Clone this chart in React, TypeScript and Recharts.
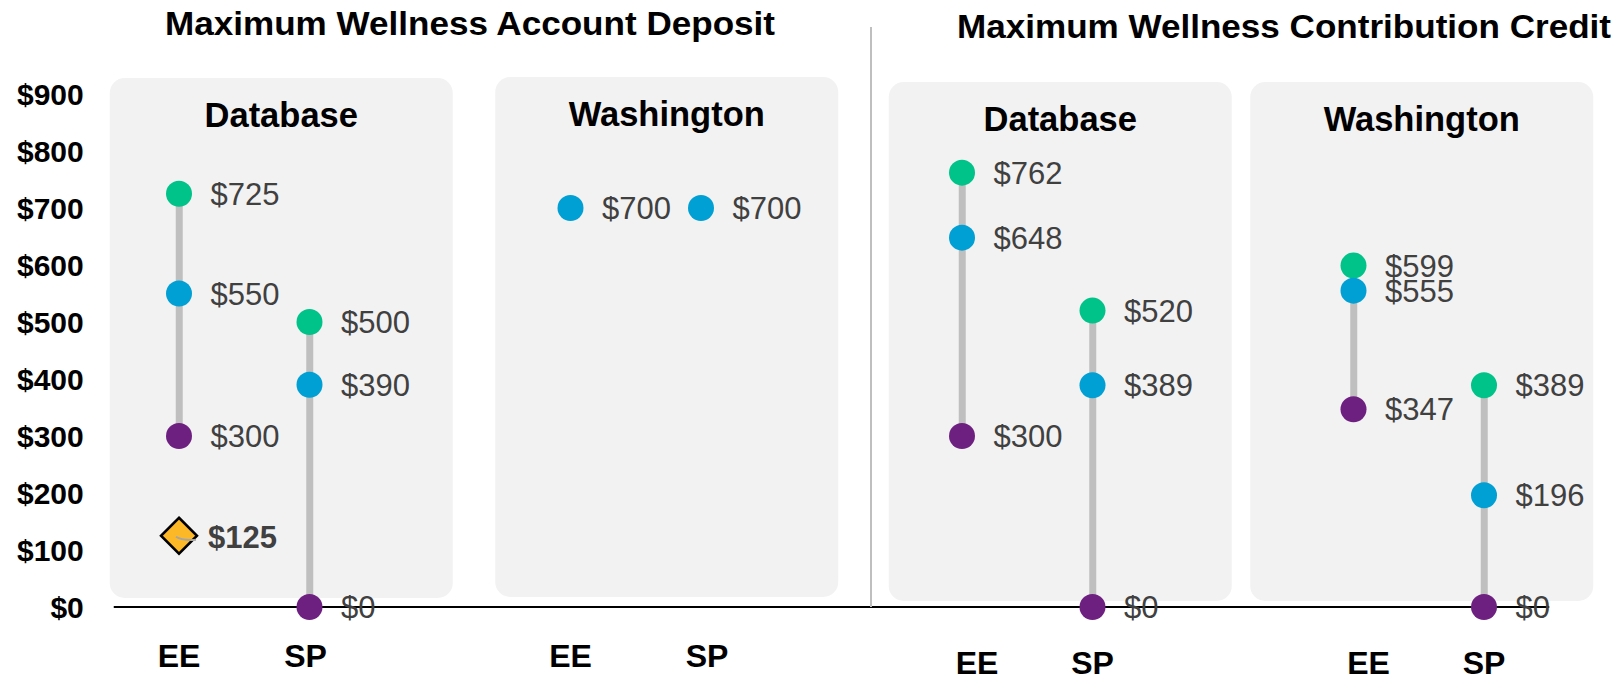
import {
  ComposedChart,
  Bar,
  Scatter,
  XAxis,
  YAxis,
  ReferenceArea,
} from "recharts";

// x positions: EE / SP per panel, blank slots separate the panels
const TICK_LABELS = ["EE", "SP", "", "EE", "SP", "", "EE", "SP", "", "EE", "SP"];
const PANEL_NAMES = ["Database", "Washington", "Database", "Washington"];
const SECTION_TITLES = ["Maximum Wellness Account Deposit", "Maximum Wellness Contribution Credit"];
const Y_TICKS = [0, 100, 200, 300, 400, 500, 600, 700, 800, 900];

const MAX_VALUES = [725, 500, null, null, null, null, 762, 520, null, 599, 389];
const MID_VALUES = [550, 390, null, 700, 700, null, 648, 389, null, 555, 196];
const MIN_VALUES = [300, 0, null, null, null, null, 300, 0, null, 347, 0];
const SPECIAL_VALUES = [125, null, null, null, null, null, null, null, null, null, null];

const GREEN = "#00C389";
const BLUE = "#009FD4";
const PURPLE = "#6E2081";
const GOLD = "#FDB827";
const STEM = "#BFBFBF";
const LABEL = "#404040";
const FONT = "'Liberation Sans', Arial, sans-serif";

const rows = TICK_LABELS.map((tick, i) => {
  const hi = MAX_VALUES[i];
  const lo = MIN_VALUES[i];
  return {
    id: `c${i}`,
    tick,
    max: hi,
    mid: MID_VALUES[i],
    min: lo,
    special: SPECIAL_VALUES[i],
    range: hi != null && lo != null ? [lo, hi] : null,
  };
});

// panel boxes, relative to the band area of their two categories
const PANEL_BOX = [
  { dx: -4, top: 16, bottom: 9 },
  { dx: -10, top: 17, bottom: 10 },
  { dx: -8, top: 12, bottom: 6 },
  { dx: -38, top: 12, bottom: 6 },
];

function Panel(props: any) {
  const { x, y, height, idx } = props;
  const box = PANEL_BOX[idx];
  const left = x + box.dx;
  const top = y - box.top;
  const h = height + box.top - box.bottom;
  return (
    <g>
      <rect x={left} y={top} width={343} height={h} rx={15} ry={15} fill="#F2F2F2" />
      <text
        x={left + 171.5}
        y={top + 49}
        textAnchor="middle"
        fontFamily={FONT}
        fontWeight="bold"
        fontSize={34.5}
        fill="#000"
      >
        {PANEL_NAMES[idx]}
      </text>
    </g>
  );
}

const dotShape = (key: "max" | "mid" | "min", color: string) => (props: any) => {
  const { cx, cy, payload } = props;
  const v = payload?.[key];
  if (v == null || cx == null || cy == null) return <g />;
  return (
    <g>
      <circle cx={cx} cy={cy} r={13} fill={color} />
      <text x={cx + 31.5} y={cy + 11} fontFamily={FONT} fontSize={31} fill={LABEL}>
        {`$${v}`}
      </text>
    </g>
  );
};

function diamondShape(props: any) {
  const { cx, cy, payload } = props;
  const v = payload?.special;
  if (v == null || cx == null || cy == null) return <g />;
  const s = 18;
  return (
    <g>
      <polygon
        points={`${cx},${cy - s} ${cx + s},${cy} ${cx},${cy + s} ${cx - s},${cy}`}
        fill={GOLD}
        stroke="#000"
        strokeWidth={2.5}
        strokeLinejoin="miter"
      />
      <path
        d={`M${cx - 3},${cy + 1} Q${cx + 3},${cy + 5} ${cx + 17},${cy + 4}`}
        stroke="#A6A6A6"
        strokeWidth={2}
        fill="none"
      />
      <text x={cx + 29} y={cy + 12} fontFamily={FONT} fontWeight="bold" fontSize={31} fill={LABEL}>
        {`$${v}`}
      </text>
    </g>
  );
}

function CategoryTick(props: any) {
  const { x, y, index } = props;
  const label = TICK_LABELS[index];
  if (!label) return <g />;
  const right = index > 5;
  let dx = 0;
  if (right && label === "EE") dx = 15;
  if (index === 1) dx = -4;
  if (index === 4) dx = 6;
  return (
    <text
      x={x + dx}
      y={y + (right ? 67 : 60)}
      textAnchor="middle"
      fontFamily={FONT}
      fontWeight="bold"
      fontSize={32}
      fill="#000"
    >
      {label}
    </text>
  );
}

export default function App() {
  return (
    <div
      style={{
        position: "absolute",
        left: 0,
        top: 0,
        width: 1623,
        height: 681,
        background: "#fff",
        fontFamily: FONT,
      }}
    >
      <ComposedChart
        width={1623}
        height={681}
        data={rows}
        margin={{ top: 94, right: 73.75, bottom: 0, left: 0 }}
      >
        <XAxis
          dataKey="id"
          type="category"
          interval={0}
          height={74}
          tickLine={false}
          tickSize={0}
          tickMargin={0}
          axisLine={{ stroke: "#000", strokeWidth: 2 }}
          tick={<CategoryTick />}
        />
        <YAxis
          type="number"
          domain={[0, 900]}
          ticks={Y_TICKS}
          interval={0}
          width={113.75}
          axisLine={false}
          tickLine={false}
          tickSize={0}
          tickMargin={30}
          tickFormatter={(v: number) => `$${v}`}
          tick={{ fontFamily: FONT, fontWeight: "bold", fontSize: 30, fill: "#000" }}
        />
        {[0, 3, 6, 9].map((start, i) => (
          <ReferenceArea
            key={start}
            x1={`c${start}`}
            x2={`c${start + 1}`}
            ifOverflow="visible"
            shape={(p: any) => <Panel {...p} idx={i} />}
          />
        ))}
        <Bar dataKey="range" barSize={7} fill={STEM} isAnimationActive={false} />
        <Scatter dataKey="max" shape={dotShape("max", GREEN)} isAnimationActive={false} />
        <Scatter dataKey="mid" shape={dotShape("mid", BLUE)} isAnimationActive={false} />
        <Scatter dataKey="min" shape={dotShape("min", PURPLE)} isAnimationActive={false} />
        <Scatter dataKey="special" shape={diamondShape} isAnimationActive={false} />
      </ComposedChart>
      <svg
        width={1623}
        height={681}
        style={{ position: "absolute", left: 0, top: 0, pointerEvents: "none" }}
      >
        <line x1={871} y1={27} x2={871} y2={607} stroke={STEM} strokeWidth={2} />
        <text
          x={470}
          y={35}
          textAnchor="middle"
          fontFamily={FONT}
          fontWeight="bold"
          fontSize={33}
          textLength={610}
          lengthAdjust="spacingAndGlyphs"
          fill="#000"
        >
          {SECTION_TITLES[0]}
        </text>
        <text
          x={1284}
          y={38}
          textAnchor="middle"
          fontFamily={FONT}
          fontWeight="bold"
          fontSize={33}
          textLength={654}
          lengthAdjust="spacingAndGlyphs"
          fill="#000"
        >
          {SECTION_TITLES[1]}
        </text>
      </svg>
    </div>
  );
}
